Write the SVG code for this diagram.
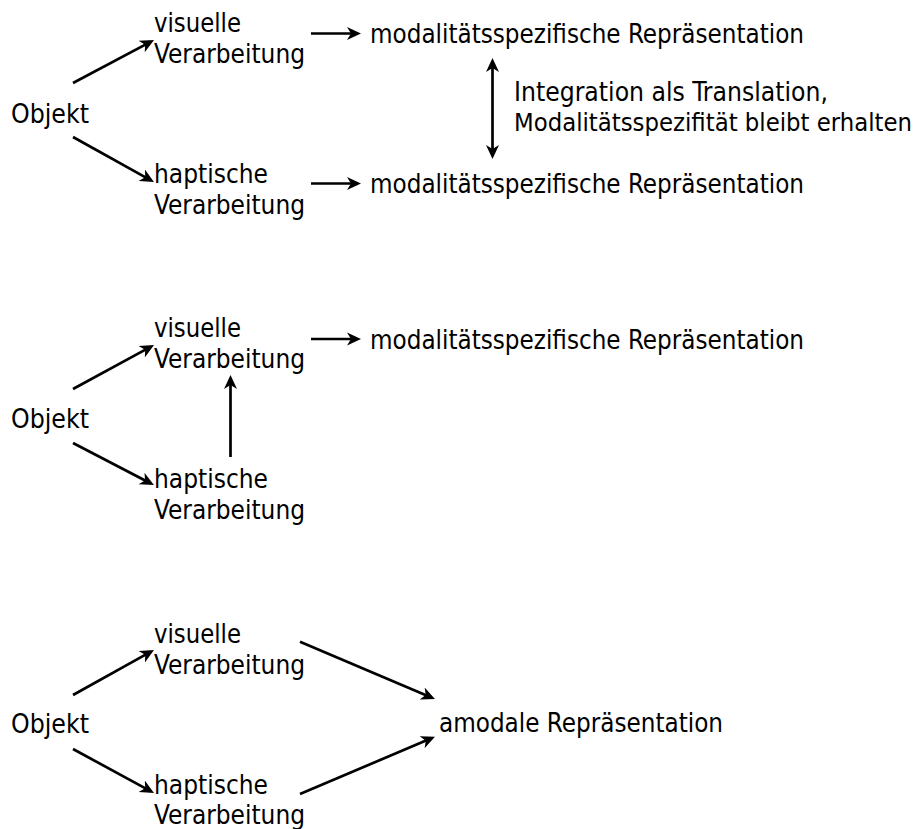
<svg xmlns="http://www.w3.org/2000/svg" width="920" height="829" viewBox="0 0 920 829">
  <style>
    text { font-family: "DejaVu Sans Condensed", "DejaVu Sans", sans-serif; font-stretch: condensed; font-size: 26px; fill: #000; }
    .c { fill: none; stroke: #000; stroke-width: 2.7; marker-end: url(#ah); }
    .d { fill: none; stroke: #000; stroke-width: 2.7; marker-end: url(#ah); marker-start: url(#ahs); }
  </style>
  <defs>
    <marker id="ah" markerUnits="userSpaceOnUse" viewBox="0 0 15 14" markerWidth="15" markerHeight="14" refX="10" refY="7" orient="auto">
      <path d="M0,0.5 L14,7 L0,13.5 L4,7 Z" fill="#000"/>
    </marker>
    <marker id="ahs" markerUnits="userSpaceOnUse" viewBox="0 0 15 14" markerWidth="15" markerHeight="14" refX="10" refY="7" orient="auto-start-reverse">
      <path d="M0,0.5 L14,7 L0,13.5 L4,7 Z" fill="#000"/>
    </marker>
  </defs>
  <rect width="920" height="829" fill="#fff"/>

  <g id="connectors">
    <!-- diagram 1 -->
    <path class="c" d="M73,83 L150.5,41.9"/>
    <path class="c" d="M73,137 L150.5,180.1"/>
    <path class="c" d="M311,33.5 L357,33.5"/>
    <path class="c" d="M311,183.5 L357,183.5"/>
    <path class="d" d="M492.5,62 L492.5,155"/>
    <!-- diagram 2 -->
    <path class="c" d="M73,389 L150.5,346.9"/>
    <path class="c" d="M73,443 L150.4,483.2"/>
    <path class="c" d="M230.5,457 L230.5,379"/>
    <path class="c" d="M311,339 L357,339"/>
    <!-- diagram 3 -->
    <path class="c" d="M73,695 L150.5,651.9"/>
    <path class="c" d="M73,749 L150.5,791.1"/>
    <path class="c" d="M300,641.7 L431.3,697.4"/>
    <path class="c" d="M300,794 L431.3,738.3"/>
  </g>

  <!-- diagram 1 -->
  <g id="d1-objekt"><text x="11" y="123" textLength="78" lengthAdjust="spacingAndGlyphs">Objekt</text></g>
  <g id="d1-visuell">
    <text x="154" y="32" textLength="87" lengthAdjust="spacingAndGlyphs">visuelle</text>
    <text x="154" y="63" textLength="151" lengthAdjust="spacingAndGlyphs">Verarbeitung</text>
  </g>
  <g id="d1-haptisch">
    <text x="154" y="183" textLength="114" lengthAdjust="spacingAndGlyphs">haptische</text>
    <text x="154" y="214" textLength="151" lengthAdjust="spacingAndGlyphs">Verarbeitung</text>
  </g>
  <g id="d1-rep-visuell"><text x="370" y="43" textLength="434" lengthAdjust="spacingAndGlyphs">modalitätsspezifische Repräsentation</text></g>
  <g id="d1-rep-haptisch"><text x="370" y="193" textLength="434" lengthAdjust="spacingAndGlyphs">modalitätsspezifische Repräsentation</text></g>
  <g id="d1-label">
    <text x="514" y="101" textLength="314" lengthAdjust="spacingAndGlyphs">Integration als Translation,</text>
    <text x="514" y="131" textLength="398" lengthAdjust="spacingAndGlyphs" style="font-size:25px">Modalitätsspezifität bleibt erhalten</text>
  </g>

  <!-- diagram 2 -->
  <g id="d2-objekt"><text x="11" y="428" textLength="78" lengthAdjust="spacingAndGlyphs">Objekt</text></g>
  <g id="d2-visuell">
    <text x="154" y="337" textLength="87" lengthAdjust="spacingAndGlyphs">visuelle</text>
    <text x="154" y="368" textLength="151" lengthAdjust="spacingAndGlyphs">Verarbeitung</text>
  </g>
  <g id="d2-haptisch">
    <text x="154" y="488" textLength="114" lengthAdjust="spacingAndGlyphs">haptische</text>
    <text x="154" y="519" textLength="151" lengthAdjust="spacingAndGlyphs">Verarbeitung</text>
  </g>
  <g id="d2-rep"><text x="370" y="349" textLength="434" lengthAdjust="spacingAndGlyphs">modalitätsspezifische Repräsentation</text></g>

  <!-- diagram 3 -->
  <g id="d3-objekt"><text x="11" y="733" textLength="78" lengthAdjust="spacingAndGlyphs">Objekt</text></g>
  <g id="d3-visuell">
    <text x="154" y="643" textLength="87" lengthAdjust="spacingAndGlyphs">visuelle</text>
    <text x="154" y="674" textLength="151" lengthAdjust="spacingAndGlyphs">Verarbeitung</text>
  </g>
  <g id="d3-haptisch">
    <text x="154" y="794" textLength="114" lengthAdjust="spacingAndGlyphs">haptische</text>
    <text x="154" y="824" textLength="151" lengthAdjust="spacingAndGlyphs">Verarbeitung</text>
  </g>
  <g id="d3-amodal"><text x="439" y="732" textLength="284" lengthAdjust="spacingAndGlyphs">amodale Repräsentation</text></g>
</svg>
